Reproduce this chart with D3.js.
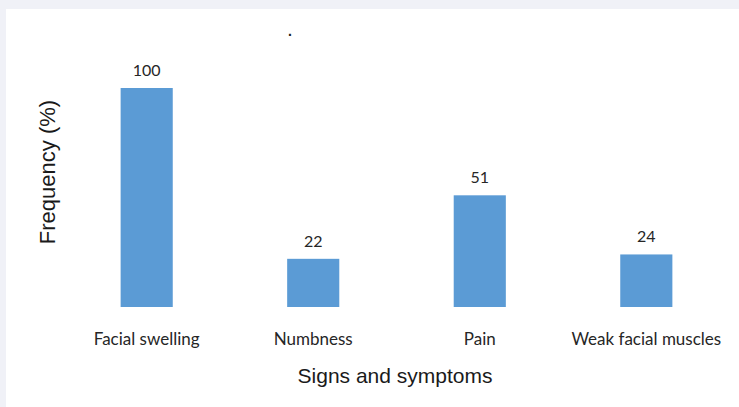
<!DOCTYPE html>
<html>
<head>
<meta charset="utf-8">
<script src="https://cdn.jsdelivr.net/npm/d3@7"></script>
<style>
  html, body { margin: 0; padding: 0; background: #f0f1f7; }
  #chart { position: absolute; left: 6px; top: 9px; width: 733px; height: 398px; background: #ffffff; }
</style>
</head>
<body>
<div id="chart"></div>
<script>
// Chart data
const categories = ['Facial swelling', 'Numbness', 'Pain', 'Weak facial muscles'];
const frequency = [100, 22, 51, 24];

document.addEventListener('DOMContentLoaded', () => {
    const width = 733, height = 398;

    const svg = d3.select('#chart')
        .append('svg')
        .attr('width', width)
        .attr('height', height);

    // Scales (coordinates relative to white panel)
    const xScale = d3.scaleBand()
        .domain(categories)
        .range([58, 723])
        .paddingInner(0.687)
        .paddingOuter(0.34);

    const yScale = d3.scaleLinear()
        .domain([0, 100])
        .range([298, 79]);

    // Bars
    svg.selectAll('.bar')
        .data(frequency)
        .enter()
        .append('rect')
        .attr('class', 'bar')
        .attr('x', (d, i) => xScale(categories[i]))
        .attr('y', d => yScale(d))
        .attr('width', xScale.bandwidth())
        .attr('height', d => yScale(0) - yScale(d))
        .attr('fill', '#5b9bd5');

    // Value labels
    svg.selectAll('.value-label')
        .data(frequency)
        .enter()
        .append('text')
        .attr('class', 'value-label')
        .attr('x', (d, i) => xScale(categories[i]) + xScale.bandwidth() / 2)
        .attr('y', d => yScale(d) - 12)
        .attr('text-anchor', 'middle')
        .attr('font-family', 'Lato, sans-serif')
        .attr('font-size', 16)
        .attr('fill', '#262626')
        .text(d => d);

    // Category axis (no line, no ticks)
    const xAxis = svg.append('g')
        .attr('transform', `translate(0,${yScale(0)})`)
        .call(d3.axisBottom(xScale).tickSize(0).tickPadding(0));
    xAxis.select('.domain').remove();
    xAxis.selectAll('text')
        .attr('dy', 0)
        .attr('y', 38)
        .attr('font-family', 'Lato, sans-serif')
        .attr('font-size', 17)
        .attr('fill', '#262626');

    // Axis titles
    svg.append('text')
        .attr('x', 389)
        .attr('y', 374)
        .attr('text-anchor', 'middle')
        .attr('font-family', 'Liberation Sans, Arial, sans-serif')
        .attr('font-size', 21)
        .attr('fill', '#1a1a1a')
        .text('Signs and symptoms');

    svg.append('text')
        .attr('transform', 'rotate(-90)')
        .attr('x', -163)
        .attr('y', 49)
        .attr('text-anchor', 'middle')
        .attr('font-family', 'Liberation Sans, Arial, sans-serif')
        .attr('font-size', 22)
        .attr('fill', '#1a1a1a')
        .text('Frequency (%)');

    // Stray title mark
    svg.append('text')
        .attr('x', 284)
        .attr('y', 27)
        .attr('text-anchor', 'middle')
        .attr('font-family', 'Liberation Sans, Arial, sans-serif')
        .attr('font-size', 14)
        .attr('font-weight', 'bold')
        .attr('fill', '#1a1a1a')
        .text('.');
});
</script>
</body>
</html>
